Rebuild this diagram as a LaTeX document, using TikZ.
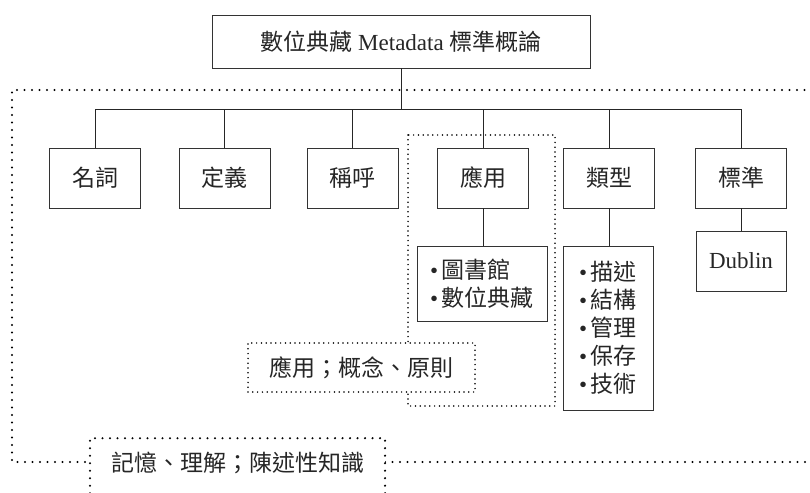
\documentclass[tikz,border=0pt]{standalone}
\usepackage{fontspec}
\setmainfont{Liberation Serif}
\newfontfamily\cjk{Noto Sans CJK TC}
\begin{document}
\begin{tikzpicture}[x=1pt,y=-1pt,
  every node/.style={font=\fontsize{23}{28}\selectfont, text=black!85},
  box/.style={draw=black!80, line width=0.9pt, fill=white, minimum width=91pt, minimum height=60pt, inner sep=0pt},
  conn/.style={draw=black!85, line width=1pt},
  bigdots/.style={draw=black, line width=2.3pt, line cap=round, dash pattern=on 0pt off 7.5pt},
  smalldots/.style={draw=black, line width=1.7pt, line cap=round, dash pattern=on 0pt off 4.8pt},
  tag/.style={fill=white, inner sep=0pt}
]
\useasboundingbox (0,0) rectangle (810,492);

% outer dotted frame
\draw[bigdots] (812,90) -- (12,90) -- (12,462) -- (812,462);

% dotted frame around application
\draw[smalldots] (408,135) rectangle (555,406);

% title
\node[box, minimum width=378pt, minimum height=53pt] (title) at (401,41.5) {{\cjk 數位典藏} Metadata {\cjk 標準概論}};

% children
\node[box] (n1) at (95,178) {\cjk 名詞};
\node[box] (n2) at (224.5,178) {\cjk 定義};
\node[box] (n3) at (352.5,178) {\cjk 稱呼};
\node[box] (n4) at (483,178) {\cjk 應用};
\node[box] (n5) at (609,178) {\cjk 類型};
\node[box] (n6) at (741,178) {\cjk 標準};

\node[box, minimum width=90pt] (dub) at (741,261) {Dublin};
\node[box, minimum width=130pt, minimum height=75pt, align=left] (app) at (482,283.5)
  {•\,{\cjk 圖書館}\\•\,{\cjk 數位典藏}};
\node[box, minimum width=90pt, minimum height=164pt, align=left] (typ) at (608,328)
  {•\,{\cjk 描述}\\•\,{\cjk 結構}\\•\,{\cjk 管理}\\•\,{\cjk 保存}\\•\,{\cjk 技術}};

% connectors
\coordinate (bar) at (0,110);
\draw[conn] (title.south) -- (title.south |- bar);
\draw[conn] (n1.north) -- (n1.north |- bar) -- (n6.north |- bar) -- (n6.north);
\draw[conn] (n2.north) -- (n2.north |- bar);
\draw[conn] (n3.north) -- (n3.north |- bar);
\draw[conn] (n4.north) -- (n4.north |- bar);
\draw[conn] (n5.north) -- (n5.north |- bar);
\draw[conn] (n4.south) -- (n4.south |- app.north);
\draw[conn] (n5.south) -- (n5.south |- typ.north);
\draw[conn] (n6.south) -- (dub.north);

% dotted labels
\node[tag, smalldots, minimum width=227pt, minimum height=49pt] (lab1) at (361.5,367.5) {\cjk 應用；概念、原則};
\node[tag, bigdots, minimum width=295pt, minimum height=60pt, anchor=north] (lab2) at (237.5,437) {};
\node (lab2t) at (237.5,463) {\cjk 記憶、理解；陳述性知識};
\end{tikzpicture}
\end{document}
